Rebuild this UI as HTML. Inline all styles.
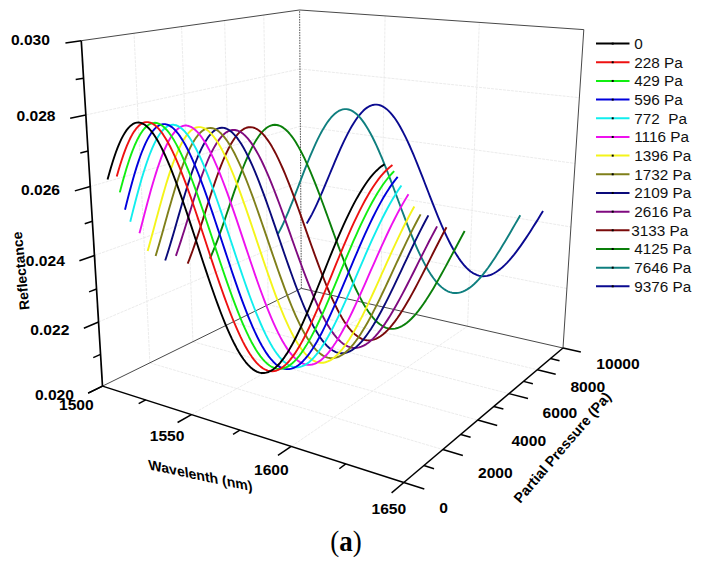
<!DOCTYPE html>
<html><head><meta charset="utf-8"><style>
html,body{margin:0;padding:0;background:#fff;}
body{width:701px;height:566px;overflow:hidden;font-family:"Liberation Sans",sans-serif;}
svg{display:block;}
</style></head><body>
<svg width="701" height="566" viewBox="0 0 701 566"><line x1="149.86" y1="362.84" x2="134.02" y2="33.26" stroke="#e6e6e6" stroke-width="0.8" stroke-dasharray="3,1"/>
<line x1="149.86" y1="362.84" x2="442.84" y2="449.54" stroke="#e6e6e6" stroke-width="0.8" stroke-dasharray="3,1"/>
<line x1="192.91" y1="341.68" x2="181.56" y2="26.58" stroke="#e6e6e6" stroke-width="0.8" stroke-dasharray="3,1"/>
<line x1="192.91" y1="341.68" x2="477.69" y2="420.09" stroke="#e6e6e6" stroke-width="0.8" stroke-dasharray="3,1"/>
<line x1="232.21" y1="322.37" x2="224.62" y2="20.53" stroke="#e6e6e6" stroke-width="0.8" stroke-dasharray="3,1"/>
<line x1="232.21" y1="322.37" x2="509.01" y2="393.62" stroke="#e6e6e6" stroke-width="0.8" stroke-dasharray="3,1"/>
<line x1="268.22" y1="304.67" x2="263.8" y2="15.02" stroke="#e6e6e6" stroke-width="0.8" stroke-dasharray="3,1"/>
<line x1="268.22" y1="304.67" x2="537.31" y2="369.71" stroke="#e6e6e6" stroke-width="0.8" stroke-dasharray="3,1"/>
<line x1="98.55" y1="321.94" x2="301.03" y2="235.86" stroke="#e6e6e6" stroke-width="0.8" stroke-dasharray="3,1"/>
<line x1="301.03" y1="235.86" x2="566.89" y2="288.48" stroke="#e6e6e6" stroke-width="0.8" stroke-dasharray="3,1"/>
<line x1="94.46" y1="255.44" x2="300.69" y2="181.83" stroke="#e6e6e6" stroke-width="0.8" stroke-dasharray="3,1"/>
<line x1="300.69" y1="181.83" x2="570.9" y2="226.98" stroke="#e6e6e6" stroke-width="0.8" stroke-dasharray="3,1"/>
<line x1="90.23" y1="186.49" x2="300.34" y2="126.22" stroke="#e6e6e6" stroke-width="0.8" stroke-dasharray="3,1"/>
<line x1="300.34" y1="126.22" x2="575.06" y2="163.41" stroke="#e6e6e6" stroke-width="0.8" stroke-dasharray="3,1"/>
<line x1="85.83" y1="114.95" x2="299.98" y2="68.96" stroke="#e6e6e6" stroke-width="0.8" stroke-dasharray="3,1"/>
<line x1="299.98" y1="68.96" x2="579.35" y2="97.66" stroke="#e6e6e6" stroke-width="0.8" stroke-dasharray="3,1"/>
<line x1="191.44" y1="414.57" x2="380.68" y2="306.46" stroke="#e6e6e6" stroke-width="0.8" stroke-dasharray="3,1"/>
<line x1="380.68" y1="306.46" x2="385.09" y2="15.9" stroke="#e6e6e6" stroke-width="0.8" stroke-dasharray="3,1"/>
<line x1="291.18" y1="446.48" x2="467.52" y2="326.24" stroke="#e6e6e6" stroke-width="0.8" stroke-dasharray="3,1"/>
<line x1="467.52" y1="326.24" x2="479.34" y2="22.41" stroke="#e6e6e6" stroke-width="0.8" stroke-dasharray="3,1"/>
<line x1="81.26" y1="40.68" x2="299.61" y2="9.99" stroke="#333" stroke-width="0.9"/>
<line x1="299.61" y1="9.99" x2="583.8" y2="29.62" stroke="#333" stroke-width="0.9"/>
<line x1="583.8" y1="29.62" x2="563" y2="348" stroke="#333" stroke-width="0.9"/>
<line x1="102.5" y1="386.12" x2="301.36" y2="288.38" stroke="#333" stroke-width="0.9"/>
<line x1="301.36" y1="288.38" x2="563" y2="348" stroke="#333" stroke-width="0.9"/>
<line x1="301.36" y1="288.38" x2="299.61" y2="9.99" stroke="#555" stroke-width="1" stroke-dasharray="1.6,1"/>
<g fill="none" stroke-width="1.9" stroke-linejoin="round"><path d="M306.71,223.4 308.43,220.59 310.15,217.56 311.88,214.34 313.61,210.93 315.35,207.35 317.1,203.61 318.86,199.73 320.62,195.73 322.39,191.63 324.17,187.43 325.95,183.17 327.75,178.85 329.55,174.5 331.36,170.13 333.17,165.77 335,161.42 336.83,157.12 338.68,152.88 340.52,148.71 342.38,144.64 344.24,140.68 346.12,136.85 347.99,133.17 349.88,129.66 351.77,126.32 353.66,123.17 355.57,120.24 357.47,117.52 359.39,115.04 361.3,112.79 363.22,110.81 365.15,109.08 367.07,107.63 369,106.46 370.93,105.57 372.86,104.96 374.8,104.65 376.73,104.63 378.67,104.9 380.6,105.47 382.54,106.32 384.47,107.47 386.4,108.9 388.33,110.61 390.26,112.59 392.19,114.83 394.11,117.33 396.03,120.08 397.95,123.07 399.86,126.28 401.78,129.7 403.68,133.33 405.59,137.14 407.49,141.13 409.39,145.27 411.29,149.56 413.18,153.98 415.07,158.5 416.96,163.13 418.85,167.84 420.73,172.61 422.62,177.43 424.5,182.28 426.38,187.15 428.26,192.01 430.14,196.86 432.02,201.68 433.9,206.46 435.78,211.17 437.67,215.8 439.55,220.35 441.44,224.79 443.34,229.11 445.24,233.31 447.14,237.36 449.05,241.26 450.96,244.99 452.88,248.56 454.81,251.93 456.75,255.12 458.69,258.1 460.64,260.88 462.61,263.44 464.58,265.77 466.57,267.89 468.56,269.77 470.57,271.41 472.59,272.81 474.62,273.98 476.67,274.9 478.73,275.57 480.81,276.01 482.9,276.19 485.01,276.13 487.13,275.83 489.26,275.29 491.42,274.52 493.59,273.51 495.78,272.27 497.98,270.8 500.2,269.12 502.44,267.23 504.7,265.13 506.97,262.83 509.26,260.34 511.57,257.67 513.89,254.83 516.23,251.82 518.59,248.66 520.97,245.35 523.36,241.91 525.77,238.35 528.19,234.68 530.63,230.91 533.08,227.05 535.55,223.12 538.03,219.13 540.52,215.09 543.03,211.01" stroke="#0a0a90"/><path d="M278.02,233.89 279.75,230.66 281.47,227.21 283.21,223.55 284.94,219.71 286.69,215.7 288.44,211.53 290.19,207.23 291.96,202.8 293.73,198.28 295.5,193.69 297.29,189.03 299.09,184.33 300.89,179.62 302.7,174.9 304.52,170.21 306.35,165.56 308.19,160.98 310.04,156.48 311.9,152.08 313.76,147.8 315.64,143.66 317.52,139.69 319.41,135.89 321.31,132.29 323.22,128.89 325.14,125.73 327.06,122.8 328.99,120.13 330.93,117.73 332.87,115.6 334.82,113.76 336.77,112.22 338.73,110.98 340.7,110.05 342.66,109.43 344.64,109.13 346.61,109.16 348.59,109.5 350.57,110.16 352.55,111.14 354.53,112.43 356.51,114.03 358.5,115.93 360.48,118.13 362.46,120.62 364.44,123.39 366.42,126.42 368.4,129.71 370.38,133.24 372.36,137 374.33,140.97 376.31,145.15 378.28,149.51 380.24,154.03 382.21,158.71 384.17,163.53 386.13,168.46 388.09,173.49 390.05,178.6 392.01,183.78 393.96,189 395.91,194.25 397.86,199.51 399.82,204.77 401.77,210 403.72,215.19 405.67,220.32 407.62,225.38 409.58,230.35 411.53,235.21 413.49,239.95 415.45,244.57 417.42,249.03 419.39,253.33 421.36,257.47 423.34,261.41 425.32,265.17 427.32,268.71 429.31,272.05 431.32,275.16 433.34,278.04 435.36,280.69 437.39,283.09 439.44,285.24 441.49,287.13 443.56,288.77 445.63,290.15 447.72,291.26 449.83,292.11 451.94,292.69 454.07,293.01 456.22,293.06 458.38,292.84 460.55,292.37 462.74,291.63 464.95,290.64 467.17,289.4 469.41,287.91 471.67,286.18 473.94,284.22 476.23,282.03 478.54,279.62 480.86,277 483.2,274.18 485.56,271.17 487.94,267.97 490.33,264.6 492.74,261.07 495.17,257.4 497.61,253.58 500.07,249.64 502.54,245.59 505.04,241.44 507.54,237.2 510.06,232.9 512.6,228.53 515.14,224.12 517.71,219.69 520.28,215.24" stroke="#0f7f7f"/><path d="M209.88,258.54 211.59,254.75 213.31,250.74 215.02,246.51 216.74,242.08 218.46,237.48 220.19,232.72 221.92,227.83 223.66,222.82 225.41,217.72 227.16,212.55 228.93,207.34 230.7,202.1 232.48,196.86 234.27,191.65 236.08,186.48 237.89,181.38 239.72,176.38 241.56,171.5 243.41,166.75 245.28,162.17 247.16,157.76 249.05,153.56 250.96,149.59 252.87,145.85 254.81,142.37 256.75,139.17 258.71,136.26 260.69,133.65 262.67,131.36 264.67,129.4 266.68,127.78 268.71,126.5 270.74,125.58 272.78,125.01 274.84,124.81 276.91,124.97 278.98,125.5 281.06,126.39 283.16,127.64 285.25,129.24 287.36,131.2 289.47,133.49 291.59,136.12 293.71,139.07 295.84,142.33 297.97,145.89 300.11,149.73 302.25,153.84 304.39,158.2 306.53,162.8 308.67,167.61 310.82,172.63 312.96,177.82 315.11,183.18 317.25,188.67 319.4,194.28 321.54,200 323.68,205.79 325.82,211.64 327.96,217.53 330.1,223.44 332.24,229.34 334.38,235.23 336.52,241.06 338.65,246.84 340.79,252.54 342.92,258.14 345.06,263.62 347.19,268.97 349.33,274.17 351.46,279.21 353.6,284.06 355.74,288.73 357.88,293.18 360.02,297.42 362.17,301.42 364.32,305.19 366.48,308.7 368.64,311.95 370.8,314.93 372.98,317.64 375.15,320.06 377.34,322.2 379.53,324.04 381.73,325.59 383.94,326.84 386.16,327.79 388.39,328.44 390.64,328.79 392.89,328.83 395.15,328.58 397.43,328.03 399.72,327.19 402.02,326.06 404.34,324.64 406.67,322.95 409.01,320.99 411.37,318.76 413.75,316.27 416.14,313.54 418.55,310.57 420.97,307.38 423.41,303.96 425.87,300.35 428.34,296.54 430.83,292.55 433.34,288.4 435.86,284.09 438.4,279.64 440.96,275.08 443.53,270.4 446.12,265.63 448.72,260.79 451.34,255.89 453.97,250.94 456.62,245.97 459.28,240.99 461.96,236.02 464.64,231.07" stroke="#0a7f0a"/><path d="M187.68,263.56 189.37,259.35 191.06,254.9 192.76,250.25 194.46,245.4 196.16,240.39 197.87,235.23 199.58,229.94 201.3,224.56 203.03,219.1 204.76,213.6 206.51,208.06 208.27,202.53 210.03,197.02 211.81,191.56 213.6,186.18 215.41,180.9 217.23,175.74 219.06,170.73 220.91,165.89 222.78,161.25 224.66,156.83 226.55,152.65 228.46,148.72 230.39,145.08 232.34,141.73 234.29,138.69 236.27,135.98 238.26,133.61 240.27,131.59 242.29,129.94 244.33,128.66 246.38,127.75 248.45,127.24 250.52,127.11 252.62,127.36 254.72,128.01 256.83,129.05 258.96,130.47 261.1,132.26 263.24,134.43 265.4,136.96 267.56,139.85 269.73,143.07 271.91,146.62 274.09,150.48 276.28,154.64 278.47,159.09 280.66,163.79 282.86,168.74 285.06,173.91 287.27,179.29 289.47,184.85 291.67,190.58 293.88,196.44 296.09,202.42 298.29,208.5 300.5,214.65 302.7,220.86 304.9,227.09 307.1,233.33 309.3,239.56 311.5,245.75 313.7,251.88 315.89,257.94 318.09,263.9 320.28,269.75 322.47,275.46 324.66,281.02 326.85,286.41 329.04,291.61 331.24,296.61 333.43,301.4 335.62,305.96 337.81,310.28 340.01,314.34 342.21,318.13 344.41,321.66 346.61,324.89 348.82,327.84 351.04,330.49 353.26,332.83 355.48,334.86 357.71,336.58 359.95,337.98 362.2,339.06 364.45,339.82 366.72,340.26 368.99,340.37 371.28,340.17 373.57,339.65 375.88,338.82 378.2,337.68 380.53,336.23 382.87,334.49 385.23,332.46 387.6,330.14 389.99,327.55 392.39,324.69 394.81,321.58 397.24,318.22 399.69,314.63 402.15,310.82 404.64,306.81 407.13,302.6 409.65,298.21 412.18,293.66 414.72,288.96 417.29,284.13 419.87,279.18 422.46,274.13 425.07,269 427.7,263.81 430.34,258.57 433,253.3 435.67,248.02 438.36,242.75 441.06,237.51 443.78,232.31 446.5,227.18" stroke="#7a0a0a"/><path d="M175.9,255.86 177.57,251.01 179.24,246 180.92,240.84 182.6,235.55 184.29,230.16 185.99,224.69 187.69,219.17 189.4,213.61 191.13,208.05 192.86,202.5 194.61,197 196.37,191.57 198.15,186.23 199.93,181.01 201.74,175.92 203.56,171 205.39,166.27 207.24,161.75 209.11,157.45 211,153.41 212.9,149.63 214.82,146.15 216.75,142.96 218.71,140.1 220.68,137.56 222.67,135.38 224.68,133.55 226.7,132.08 228.74,130.99 230.79,130.28 232.86,129.95 234.95,130.01 237.05,130.45 239.16,131.28 241.28,132.5 243.42,134.09 245.57,136.06 247.73,138.39 249.9,141.08 252.08,144.11 254.27,147.48 256.46,151.17 258.66,155.16 260.87,159.45 263.08,164.01 265.3,168.82 267.52,173.87 269.75,179.14 271.98,184.61 274.21,190.25 276.44,196.05 278.67,201.98 280.9,208.03 283.13,214.17 285.36,220.38 287.6,226.63 289.83,232.91 292.05,239.2 294.28,245.47 296.51,251.7 298.73,257.87 300.95,263.97 303.17,269.97 305.39,275.85 307.61,281.6 309.83,287.2 312.04,292.63 314.25,297.88 316.47,302.92 318.68,307.76 320.9,312.36 323.11,316.73 325.32,320.85 327.54,324.71 329.76,328.29 331.98,331.6 334.2,334.61 336.43,337.33 338.66,339.75 340.9,341.87 343.14,343.67 345.39,345.16 347.64,346.33 349.9,347.18 352.17,347.72 354.45,347.94 356.73,347.84 359.03,347.43 361.33,346.7 363.65,345.67 365.98,344.34 368.32,342.7 370.67,340.78 373.03,338.57 375.41,336.09 377.81,333.34 380.21,330.34 382.63,327.08 385.07,323.59 387.52,319.88 389.99,315.96 392.47,311.83 394.97,307.53 397.48,303.05 400.01,298.41 402.56,293.63 405.12,288.73 407.7,283.72 410.3,278.62 412.91,273.45 415.54,268.21 418.18,262.94 420.84,257.64 423.51,252.34 426.19,247.06 428.9,241.8 431.61,236.6 434.34,231.46 437.07,226.41" stroke="#7f0a7f"/><path d="M165.2,260.55 166.85,255.46 168.5,250.18 170.16,244.73 171.83,239.14 173.5,233.43 175.17,227.64 176.86,221.77 178.55,215.87 180.25,209.96 181.97,204.07 183.7,198.22 185.44,192.44 187.2,186.75 188.97,181.2 190.76,175.79 192.56,170.56 194.39,165.53 196.23,160.73 198.09,156.18 199.97,151.9 201.86,147.91 203.78,144.24 205.72,140.9 207.67,137.9 209.65,135.27 211.64,133.01 213.66,131.14 215.69,129.67 217.74,128.61 219.81,127.95 221.89,127.72 224,127.9 226.12,128.51 228.25,129.52 230.4,130.96 232.56,132.8 234.74,135.04 236.92,137.68 239.12,140.69 241.33,144.07 243.55,147.81 245.78,151.89 248.01,156.28 250.25,160.99 252.5,165.97 254.75,171.22 257.01,176.72 259.27,182.43 261.53,188.35 263.8,194.43 266.07,200.68 268.33,207.04 270.6,213.52 272.87,220.07 275.13,226.68 277.4,233.32 279.66,239.97 281.92,246.6 284.18,253.2 286.44,259.73 288.69,266.18 290.95,272.53 293.2,278.75 295.44,284.82 297.69,290.74 299.93,296.47 302.17,302 304.41,307.31 306.65,312.39 308.89,317.22 311.13,321.8 313.36,326.1 315.6,330.11 317.84,333.83 320.08,337.25 322.32,340.35 324.56,343.13 326.81,345.59 329.06,347.71 331.32,349.49 333.58,350.93 335.85,352.03 338.12,352.79 340.4,353.2 342.69,353.27 344.98,353 347.29,352.39 349.6,351.44 351.93,350.16 354.26,348.56 356.61,346.64 358.97,344.41 361.34,341.88 363.73,339.05 366.13,335.94 368.54,332.56 370.97,328.92 373.41,325.04 375.87,320.92 378.35,316.58 380.84,312.03 383.34,307.3 385.87,302.39 388.4,297.33 390.96,292.13 393.53,286.81 396.12,281.38 398.73,275.87 401.35,270.3 403.98,264.68 406.64,259.03 409.31,253.38 411.99,247.75 414.69,242.15 417.4,236.6 420.12,231.13 422.86,225.75 425.61,220.49 428.37,215.36" stroke="#0a0a7a"/><path d="M155.62,255.96 157.25,250.54 158.89,244.96 160.54,239.25 162.19,233.43 163.85,227.53 165.51,221.57 167.19,215.59 168.88,209.61 170.58,203.65 172.29,197.74 174.02,191.92 175.76,186.2 177.52,180.62 179.3,175.19 181.09,169.96 182.9,164.93 184.73,160.14 186.59,155.61 188.46,151.36 190.35,147.41 192.26,143.78 194.2,140.49 196.15,137.55 198.12,134.98 200.12,132.8 202.13,131.01 204.17,129.62 206.23,128.64 208.3,128.08 210.39,127.94 212.5,128.22 214.63,128.93 216.78,130.05 218.94,131.59 221.12,133.54 223.31,135.89 225.51,138.64 227.72,141.76 229.95,145.26 232.19,149.11 234.44,153.29 236.69,157.8 238.96,162.62 241.23,167.71 243.5,173.07 245.78,178.67 248.07,184.49 250.36,190.51 252.65,196.7 254.94,203.04 257.23,209.51 259.53,216.08 261.82,222.73 264.11,229.43 266.4,236.16 268.69,242.9 270.98,249.62 273.26,256.3 275.55,262.92 277.83,269.46 280.11,275.89 282.38,282.19 284.65,288.34 286.92,294.33 289.19,300.14 291.45,305.75 293.71,311.13 295.97,316.29 298.23,321.19 300.49,325.84 302.74,330.21 305,334.29 307.25,338.08 309.51,341.56 311.76,344.73 314.02,347.57 316.28,350.09 318.55,352.27 320.81,354.12 323.08,355.62 325.36,356.78 327.64,357.59 329.93,358.05 332.22,358.18 334.52,357.95 336.83,357.39 339.15,356.49 341.48,355.25 343.82,353.69 346.17,351.81 348.53,349.61 350.9,347.11 353.28,344.31 355.68,341.22 358.09,337.86 360.52,334.24 362.95,330.36 365.41,326.25 367.88,321.91 370.36,317.36 372.86,312.61 375.38,307.69 377.92,302.6 380.46,297.37 383.03,292.02 385.61,286.55 388.21,280.99 390.83,275.36 393.46,269.68 396.11,263.97 398.77,258.24 401.45,252.52 404.14,246.83 406.85,241.19 409.57,235.61 412.31,230.12 415.06,224.73 417.82,219.48 420.59,214.37" stroke="#7f7f1a"/><path d="M147.66,251.08 149.27,245.29 150.9,239.37 152.52,233.35 154.16,227.26 155.8,221.11 157.46,214.95 159.13,208.79 160.81,202.68 162.5,196.62 164.21,190.66 165.94,184.82 167.68,179.13 169.44,173.61 171.22,168.3 173.02,163.21 174.84,158.37 176.69,153.81 178.55,149.54 180.44,145.6 182.34,141.99 184.27,138.74 186.22,135.86 188.2,133.36 190.2,131.27 192.21,129.59 194.25,128.32 196.32,127.49 198.4,127.08 200.5,127.11 202.62,127.58 204.76,128.48 206.92,129.82 209.09,131.58 211.28,133.76 213.49,136.35 215.71,139.35 217.95,142.73 220.19,146.49 222.45,150.6 224.72,155.06 226.99,159.83 229.28,164.92 231.57,170.28 233.87,175.91 236.17,181.78 238.48,187.86 240.79,194.13 243.1,200.57 245.42,207.15 247.74,213.86 250.05,220.65 252.37,227.51 254.68,234.42 257,241.34 259.31,248.26 261.62,255.15 263.92,261.98 266.22,268.74 268.52,275.4 270.82,281.94 273.11,288.34 275.4,294.57 277.69,300.63 279.97,306.48 282.25,312.12 284.53,317.53 286.8,322.68 289.07,327.58 291.34,332.19 293.61,336.52 295.88,340.55 298.14,344.26 300.41,347.66 302.67,350.72 304.94,353.45 307.21,355.84 309.48,357.88 311.75,359.57 314.03,360.91 316.31,361.89 318.59,362.52 320.88,362.79 323.18,362.7 325.49,362.26 327.8,361.47 330.12,360.34 332.45,358.87 334.79,357.06 337.14,354.92 339.5,352.47 341.87,349.71 344.25,346.65 346.65,343.3 349.06,339.67 351.48,335.78 353.92,331.63 356.38,327.25 358.84,322.65 361.33,317.84 363.83,312.83 366.34,307.66 368.87,302.32 371.42,296.85 373.99,291.26 376.57,285.57 379.16,279.79 381.78,273.96 384.41,268.08 387.05,262.18 389.72,256.28 392.39,250.4 395.09,244.56 397.8,238.79 400.52,233.09 403.25,227.5 406,222.04 408.76,216.72 411.54,211.56 414.32,206.58" stroke="#f4f41a"/><path d="M139.46,233.31 141.06,227.14 142.67,220.92 144.29,214.69 145.92,208.46 147.57,202.27 149.23,196.15 150.91,190.12 152.6,184.21 154.31,178.45 156.05,172.87 157.8,167.49 159.57,162.34 161.36,157.44 163.18,152.82 165.01,148.49 166.87,144.49 168.76,140.83 170.67,137.52 172.6,134.59 174.55,132.05 176.53,129.91 178.53,128.18 180.56,126.88 182.61,126.01 184.68,125.57 186.77,125.57 188.88,126.01 191.02,126.89 193.17,128.2 195.34,129.95 197.53,132.11 199.74,134.7 201.96,137.68 204.2,141.06 206.45,144.82 208.72,148.94 210.99,153.41 213.28,158.21 215.58,163.31 217.88,168.7 220.19,174.36 222.51,180.26 224.83,186.38 227.16,192.69 229.49,199.18 231.82,205.82 234.15,212.58 236.48,219.43 238.82,226.36 241.15,233.33 243.48,240.33 245.81,247.33 248.14,254.3 250.46,261.22 252.78,268.06 255.1,274.82 257.41,281.45 259.72,287.95 262.03,294.28 264.33,300.44 266.63,306.41 268.92,312.15 271.21,317.67 273.49,322.94 275.78,327.95 278.05,332.68 280.33,337.13 282.6,341.28 284.88,345.11 287.15,348.63 289.41,351.81 291.68,354.66 293.95,357.17 296.22,359.33 298.49,361.14 300.76,362.6 303.04,363.7 305.32,364.44 307.6,364.82 309.89,364.84 312.18,364.51 314.48,363.83 316.79,362.79 319.1,361.42 321.43,359.7 323.76,357.66 326.1,355.29 328.45,352.61 330.81,349.62 333.19,346.34 335.57,342.77 337.97,338.93 340.39,334.84 342.81,330.5 345.25,325.93 347.71,321.15 350.18,316.16 352.66,311 355.16,305.66 357.68,300.19 360.21,294.58 362.76,288.86 365.33,283.05 367.91,277.17 370.51,271.24 373.13,265.28 375.76,259.31 378.4,253.35 381.07,247.42 383.74,241.54 386.43,235.74 389.14,230.03 391.86,224.43 394.6,218.97 397.34,213.66 400.1,208.53 402.87,203.59 405.66,198.86 408.45,194.36" stroke="#ee11ee"/><path d="M130.25,221.7 131.84,215.37 133.45,209.05 135.06,202.77 136.7,196.55 138.35,190.43 140.01,184.43 141.7,178.58 143.4,172.91 145.13,167.44 146.88,162.21 148.65,157.23 150.44,152.53 152.26,148.14 154.1,144.07 155.97,140.34 157.86,136.98 159.78,134 161.72,131.42 163.69,129.24 165.68,127.48 167.7,126.15 169.74,125.26 171.81,124.81 173.9,124.81 176.01,125.25 178.15,126.14 180.3,127.47 182.48,129.24 184.68,131.44 186.89,134.06 189.12,137.1 191.37,140.53 193.64,144.34 195.91,148.53 198.2,153.06 200.51,157.93 202.82,163.11 205.14,168.59 207.47,174.33 209.81,180.32 212.15,186.53 214.5,192.94 216.85,199.53 219.21,206.26 221.57,213.12 223.92,220.08 226.28,227.11 228.64,234.18 230.99,241.28 233.35,248.38 235.7,255.45 238.04,262.46 240.39,269.41 242.73,276.25 245.06,282.97 247.39,289.56 249.72,295.98 252.04,302.22 254.35,308.26 256.67,314.08 258.97,319.67 261.27,325 263.57,330.07 265.86,334.86 268.15,339.35 270.44,343.54 272.72,347.42 275,350.97 277.28,354.19 279.56,357.06 281.83,359.59 284.11,361.76 286.38,363.58 288.66,365.04 290.94,366.13 293.21,366.86 295.5,367.23 297.78,367.24 300.07,366.88 302.37,366.17 304.67,365.1 306.98,363.68 309.29,361.93 311.62,359.83 313.95,357.41 316.29,354.67 318.64,351.62 321,348.27 323.38,344.64 325.76,340.73 328.16,336.56 330.57,332.14 333,327.48 335.44,322.61 337.89,317.54 340.36,312.29 342.84,306.87 345.34,301.3 347.86,295.59 350.39,289.78 352.94,283.88 355.5,277.91 358.08,271.88 360.68,265.83 363.29,259.76 365.92,253.71 368.57,247.69 371.23,241.72 373.9,235.84 376.59,230.04 379.3,224.37 382.02,218.83 384.75,213.45 387.5,208.25 390.25,203.25 393.02,198.46 395.8,193.9 398.59,189.6 401.39,185.57" stroke="#11eeee"/><path d="M125.01,209.65 126.6,203.28 128.2,196.96 129.83,190.75 131.47,184.65 133.13,178.71 134.81,172.95 136.51,167.4 138.24,162.09 139.99,157.03 141.76,152.26 143.56,147.79 145.38,143.66 147.23,139.87 149.11,136.46 151.01,133.43 152.94,130.81 154.89,128.6 156.87,126.81 158.88,125.47 160.91,124.57 162.97,124.12 165.06,124.12 167.16,124.57 169.3,125.48 171.45,126.84 173.63,128.64 175.82,130.89 178.04,133.56 180.27,136.65 182.53,140.14 184.79,144.02 187.08,148.28 189.38,152.89 191.69,157.84 194.01,163.11 196.34,168.68 198.68,174.51 201.02,180.6 203.38,186.91 205.74,193.42 208.1,200.11 210.47,206.94 212.83,213.9 215.2,220.96 217.57,228.09 219.94,235.26 222.31,242.46 224.67,249.65 227.03,256.81 229.39,263.91 231.75,270.94 234.1,277.86 236.44,284.66 238.78,291.32 241.12,297.81 243.45,304.11 245.77,310.2 248.09,316.08 250.4,321.71 252.71,327.08 255.01,332.18 257.31,336.99 259.6,341.51 261.89,345.71 264.17,349.6 266.45,353.15 268.73,356.36 271,359.22 273.28,361.73 275.55,363.88 277.82,365.67 280.09,367.09 282.36,368.14 284.63,368.82 286.91,369.14 289.19,369.08 291.47,368.66 293.75,367.88 296.04,366.73 298.34,365.24 300.64,363.4 302.95,361.21 305.27,358.7 307.6,355.86 309.93,352.71 312.28,349.26 314.64,345.52 317.01,341.51 319.39,337.23 321.78,332.7 324.19,327.93 326.61,322.95 329.04,317.77 331.49,312.4 333.96,306.87 336.44,301.19 338.93,295.38 341.44,289.46 343.97,283.45 346.51,277.37 349.07,271.25 351.65,265.1 354.24,258.94 356.85,252.81 359.48,246.71 362.12,240.66 364.77,234.71 367.44,228.85 370.13,223.12 372.83,217.53 375.54,212.11 378.27,206.87 381.01,201.84 383.76,197.03 386.53,192.47 389.3,188.16 392.09,184.14 394.88,180.4 397.68,176.97" stroke="#0000dd"/><path d="M119.81,192.38 121.42,186.25 123.05,180.27 124.7,174.45 126.37,168.82 128.06,163.41 129.78,158.25 131.52,153.36 133.29,148.76 135.08,144.48 136.89,140.53 138.74,136.94 140.61,133.73 142.51,130.91 144.44,128.49 146.39,126.48 148.37,124.91 150.38,123.77 152.41,123.07 154.47,122.82 156.56,123.01 158.67,123.66 160.8,124.75 162.96,126.29 165.14,128.26 167.34,130.67 169.56,133.49 171.8,136.72 174.06,140.35 176.33,144.36 178.62,148.73 180.93,153.45 183.24,158.49 185.57,163.84 187.91,169.47 190.26,175.37 192.61,181.51 194.97,187.86 197.34,194.4 199.71,201.11 202.08,207.96 204.46,214.92 206.84,221.97 209.21,229.09 211.59,236.25 213.96,243.42 216.33,250.58 218.7,257.7 221.07,264.76 223.43,271.74 225.78,278.62 228.14,285.37 230.48,291.97 232.82,298.4 235.16,304.65 237.48,310.69 239.81,316.5 242.12,322.08 244.43,327.39 246.74,332.44 249.04,337.2 251.33,341.67 253.62,345.82 255.91,349.66 258.19,353.17 260.46,356.34 262.74,359.17 265.01,361.65 267.28,363.77 269.54,365.53 271.81,366.94 274.08,367.97 276.34,368.65 278.61,368.96 280.88,368.9 283.16,368.48 285.43,367.71 287.71,366.58 290,365.1 292.29,363.28 294.59,361.12 296.89,358.64 299.21,355.83 301.53,352.72 303.86,349.31 306.2,345.61 308.55,341.64 310.92,337.4 313.29,332.92 315.68,328.2 318.08,323.27 320.5,318.13 322.93,312.82 325.37,307.33 327.83,301.7 330.3,295.93 332.79,290.06 335.3,284.09 337.82,278.05 340.36,271.96 342.91,265.84 345.48,259.71 348.06,253.6 350.67,247.51 353.28,241.48 355.92,235.52 358.57,229.66 361.23,223.92 363.91,218.31 366.6,212.86 369.31,207.59 372.03,202.52 374.76,197.66 377.51,193.04 380.27,188.66 383.03,184.56 385.81,180.74 388.6,177.22 391.39,174.01 394.19,171.12" stroke="#11ee11"/><path d="M116.74,176.6 118.38,170.83 120.04,165.27 121.72,159.95 123.43,154.9 125.16,150.13 126.92,145.67 128.7,141.54 130.51,137.77 132.35,134.36 134.22,131.35 136.12,128.73 138.04,126.53 140,124.76 141.98,123.42 143.99,122.53 146.02,122.09 148.09,122.1 150.17,122.56 152.29,123.48 154.43,124.84 156.59,126.65 158.78,128.89 160.98,131.56 163.21,134.65 165.45,138.15 167.72,142.03 170,146.29 172.29,150.91 174.6,155.86 176.93,161.13 179.26,166.7 181.6,172.54 183.96,178.63 186.32,184.95 188.68,191.48 191.06,198.18 193.43,205.04 195.81,212.02 198.19,219.11 200.57,226.27 202.95,233.49 205.33,240.72 207.7,247.96 210.08,255.18 212.45,262.34 214.81,269.44 217.17,276.44 219.53,283.32 221.88,290.06 224.22,296.64 226.56,303.04 228.89,309.25 231.21,315.23 233.53,320.99 235.84,326.49 238.15,331.72 240.45,336.68 242.74,341.34 245.03,345.7 247.31,349.74 249.59,353.46 251.86,356.84 254.13,359.88 256.39,362.57 258.65,364.9 260.91,366.88 263.16,368.49 265.42,369.74 267.67,370.62 269.93,371.13 272.18,371.28 274.44,371.06 276.69,370.48 278.96,369.53 281.22,368.24 283.49,366.59 285.77,364.61 288.05,362.29 290.33,359.64 292.63,356.67 294.93,353.4 297.25,349.83 299.57,345.98 301.9,341.85 304.25,337.47 306.6,332.84 308.97,327.99 311.35,322.92 313.74,317.66 316.15,312.21 318.58,306.61 321.01,300.86 323.46,294.99 325.93,289.01 328.42,282.95 330.92,276.82 333.43,270.65 335.96,264.46 338.51,258.26 341.07,252.08 343.65,245.95 346.25,239.87 348.86,233.87 351.49,227.98 354.13,222.22 356.79,216.59 359.46,211.14 362.15,205.87 364.85,200.8 367.56,195.96 370.29,191.35 373.02,187.01 375.77,182.94 378.53,179.16 381.3,175.69 384.07,172.53 386.85,169.71 389.65,167.23 392.44,165.1" stroke="#ee1111"/><path d="M107.55,179.58 109.17,173.66 110.81,167.94 112.48,162.45 114.17,157.23 115.89,152.29 117.63,147.66 119.4,143.37 121.2,139.42 123.03,135.86 124.89,132.68 126.78,129.91 128.7,127.57 130.65,125.66 132.63,124.19 134.64,123.18 136.68,122.63 138.74,122.54 140.84,122.91 142.96,123.75 145.1,125.04 147.28,126.8 149.47,129 151.69,131.64 153.94,134.72 156.2,138.21 158.48,142.1 160.78,146.37 163.1,151.02 165.43,156.01 167.78,161.33 170.14,166.96 172.51,172.87 174.89,179.04 177.27,185.44 179.67,192.06 182.07,198.85 184.47,205.81 186.88,212.9 189.29,220.09 191.7,227.36 194.11,234.68 196.52,242.03 198.93,249.38 201.33,256.7 203.73,263.97 206.12,271.16 208.51,278.26 210.9,285.23 213.28,292.06 215.65,298.73 218.01,305.2 220.37,311.47 222.72,317.52 225.06,323.32 227.4,328.87 229.73,334.14 232.05,339.12 234.36,343.8 236.67,348.16 238.97,352.2 241.26,355.9 243.55,359.26 245.84,362.26 248.12,364.91 250.39,367.19 252.66,369.1 254.93,370.64 257.2,371.8 259.47,372.58 261.73,372.99 264,373.02 266.26,372.68 268.53,371.97 270.8,370.89 273.07,369.45 275.35,367.66 277.63,365.51 279.91,363.03 282.21,360.21 284.51,357.08 286.82,353.63 289.13,349.88 291.46,345.85 293.8,341.54 296.14,336.98 298.5,332.17 300.88,327.13 303.26,321.89 305.66,316.45 308.07,310.84 310.5,305.07 312.94,299.16 315.39,293.14 317.86,287.01 320.35,280.82 322.86,274.56 325.38,268.28 327.91,261.98 330.47,255.69 333.04,249.44 335.62,243.23 338.22,237.11 340.84,231.08 343.48,225.17 346.13,219.41 348.79,213.8 351.47,208.38 354.17,203.16 356.88,198.17 359.6,193.42 362.34,188.93 365.08,184.71 367.84,180.79 370.61,177.18 373.39,173.9 376.18,170.95 378.97,168.35 381.78,166.11 384.58,164.24" stroke="#000000"/></g>
<line x1="102.5" y1="386.12" x2="81.26" y2="40.68" stroke="#000" stroke-width="1.7"/>
<line x1="102.5" y1="386.12" x2="403.82" y2="482.51" stroke="#000" stroke-width="1.5"/>
<line x1="403.82" y1="482.51" x2="563" y2="348" stroke="#000" stroke-width="1.5"/>
<line x1="102.5" y1="386.12" x2="88.14" y2="393.17" stroke="#000" stroke-width="1.5"/>
<line x1="100.54" y1="354.31" x2="93.27" y2="357.64" stroke="#000" stroke-width="1.5"/>
<line x1="98.55" y1="321.94" x2="83.83" y2="328.2" stroke="#000" stroke-width="1.5"/>
<line x1="96.53" y1="288.99" x2="89.08" y2="291.9" stroke="#000" stroke-width="1.5"/>
<line x1="94.46" y1="255.44" x2="79.4" y2="260.82" stroke="#000" stroke-width="1.5"/>
<line x1="92.36" y1="221.28" x2="84.75" y2="223.73" stroke="#000" stroke-width="1.5"/>
<line x1="90.23" y1="186.49" x2="74.85" y2="190.9" stroke="#000" stroke-width="1.5"/>
<line x1="88.05" y1="151.05" x2="80.29" y2="153" stroke="#000" stroke-width="1.5"/>
<line x1="85.83" y1="114.95" x2="70.18" y2="118.31" stroke="#000" stroke-width="1.5"/>
<line x1="83.57" y1="78.17" x2="75.69" y2="79.57" stroke="#000" stroke-width="1.5"/>
<line x1="81.26" y1="40.68" x2="65.42" y2="42.9" stroke="#000" stroke-width="1.5"/>
<line x1="102.5" y1="386.12" x2="88.14" y2="393.17" stroke="#000" stroke-width="1.5"/>
<line x1="145.73" y1="399.95" x2="138.66" y2="403.68" stroke="#000" stroke-width="1.5"/>
<line x1="191.44" y1="414.57" x2="177.55" y2="422.51" stroke="#000" stroke-width="1.5"/>
<line x1="239.84" y1="430.05" x2="233.05" y2="434.28" stroke="#000" stroke-width="1.5"/>
<line x1="291.18" y1="446.48" x2="277.96" y2="455.49" stroke="#000" stroke-width="1.5"/>
<line x1="345.73" y1="463.93" x2="339.35" y2="468.75" stroke="#000" stroke-width="1.5"/>
<line x1="403.82" y1="482.51" x2="391.59" y2="492.84" stroke="#000" stroke-width="1.5"/>
<line x1="403.82" y1="482.51" x2="424.29" y2="489.07" stroke="#000" stroke-width="1.5"/>
<line x1="423.89" y1="465.55" x2="434.02" y2="468.66" stroke="#000" stroke-width="1.5"/>
<line x1="442.84" y1="449.54" x2="462.84" y2="455.46" stroke="#000" stroke-width="1.5"/>
<line x1="460.74" y1="434.41" x2="470.62" y2="437.23" stroke="#000" stroke-width="1.5"/>
<line x1="477.69" y1="420.09" x2="497.19" y2="425.45" stroke="#000" stroke-width="1.5"/>
<line x1="493.76" y1="406.51" x2="503.38" y2="409.07" stroke="#000" stroke-width="1.5"/>
<line x1="509.01" y1="393.62" x2="527.97" y2="398.5" stroke="#000" stroke-width="1.5"/>
<line x1="523.51" y1="381.37" x2="532.85" y2="383.7" stroke="#000" stroke-width="1.5"/>
<line x1="537.31" y1="369.71" x2="555.72" y2="374.16" stroke="#000" stroke-width="1.5"/>
<line x1="550.46" y1="358.6" x2="559.52" y2="360.73" stroke="#000" stroke-width="1.5"/>
<line x1="563" y1="348" x2="580.84" y2="352.07" stroke="#000" stroke-width="1.5"/>
<text x="0" y="0" transform="translate(10.88,44.5) scale(1.04,1)" font-family="Liberation Sans" font-size="15" font-weight="bold" text-anchor="start" fill="#000">0.030</text>
<text x="0" y="0" transform="translate(16.48,120.6) scale(1.04,1)" font-family="Liberation Sans" font-size="15" font-weight="bold" text-anchor="start" fill="#000">0.028</text>
<text x="0" y="0" transform="translate(20.98,194.6) scale(1.04,1)" font-family="Liberation Sans" font-size="15" font-weight="bold" text-anchor="start" fill="#000">0.026</text>
<text x="0" y="0" transform="translate(25.78,265.5) scale(1.04,1)" font-family="Liberation Sans" font-size="15" font-weight="bold" text-anchor="start" fill="#000">0.024</text>
<text x="0" y="0" transform="translate(30.28,334.6) scale(1.04,1)" font-family="Liberation Sans" font-size="15" font-weight="bold" text-anchor="start" fill="#000">0.022</text>
<text x="0" y="0" transform="translate(34.88,400) scale(1.04,1)" font-family="Liberation Sans" font-size="15" font-weight="bold" text-anchor="start" fill="#000">0.020</text>
<text x="0" y="0" transform="translate(59.02,409.8) scale(1.04,1)" font-family="Liberation Sans" font-size="15" font-weight="bold" text-anchor="start" fill="#000">1500</text>
<text x="0" y="0" transform="translate(149.72,441.4) scale(1.04,1)" font-family="Liberation Sans" font-size="15" font-weight="bold" text-anchor="start" fill="#000">1550</text>
<text x="0" y="0" transform="translate(254.02,475.3) scale(1.04,1)" font-family="Liberation Sans" font-size="15" font-weight="bold" text-anchor="start" fill="#000">1600</text>
<text x="0" y="0" transform="translate(371.52,513.7) scale(1.04,1)" font-family="Liberation Sans" font-size="15" font-weight="bold" text-anchor="start" fill="#000">1650</text>
<text x="0" y="0" transform="translate(439.18,513.2) scale(1.04,1)" font-family="Liberation Sans" font-size="15" font-weight="bold" text-anchor="start" fill="#000">0</text>
<text x="0" y="0" transform="translate(477.98,477.8) scale(1.04,1)" font-family="Liberation Sans" font-size="15" font-weight="bold" text-anchor="start" fill="#000">2000</text>
<text x="0" y="0" transform="translate(511.38,446) scale(1.04,1)" font-family="Liberation Sans" font-size="15" font-weight="bold" text-anchor="start" fill="#000">4000</text>
<text x="0" y="0" transform="translate(542.58,418.1) scale(1.04,1)" font-family="Liberation Sans" font-size="15" font-weight="bold" text-anchor="start" fill="#000">6000</text>
<text x="0" y="0" transform="translate(570.38,391.8) scale(1.04,1)" font-family="Liberation Sans" font-size="15" font-weight="bold" text-anchor="start" fill="#000">8000</text>
<text x="0" y="0" transform="translate(596.32,368.9) scale(1.04,1)" font-family="Liberation Sans" font-size="15" font-weight="bold" text-anchor="start" fill="#000">10000</text>
<text x="0" y="0" transform="translate(29.5,309.5) rotate(-95.6)" font-family="Liberation Sans" font-size="14" font-weight="bold" text-anchor="start" fill="#000">Reflectance</text>
<text transform="matrix(0.978,0.208,0.11,0.994,149.1,469.4)" font-family="Liberation Sans" font-size="14.35" font-weight="bold">Wavelenth (nm)</text>
<text transform="matrix(0.652,-0.758,0.758,0.652,520.2,504)" font-family="Liberation Sans" font-size="14.4" font-weight="bold">Partial Pressure (Pa)</text>
<line x1="596" y1="43.6" x2="629.5" y2="43.6" stroke="#000000" stroke-width="2"/>
<rect x="611.7" y="42.6" width="2" height="2" fill="#000"/>
<text x="634.2" y="49" font-family="Liberation Sans" font-size="15.3" fill="#111" xml:space="preserve">0</text>
<line x1="596" y1="62.27" x2="629.5" y2="62.27" stroke="#ee1111" stroke-width="2"/>
<rect x="611.7" y="61.27" width="2" height="2" fill="#000"/>
<text x="634.2" y="67.67" font-family="Liberation Sans" font-size="15.3" fill="#111" xml:space="preserve">228 Pa</text>
<line x1="596" y1="80.94" x2="629.5" y2="80.94" stroke="#11ee11" stroke-width="2"/>
<rect x="611.7" y="79.94" width="2" height="2" fill="#000"/>
<text x="634.2" y="86.34" font-family="Liberation Sans" font-size="15.3" fill="#111" xml:space="preserve">429 Pa</text>
<line x1="596" y1="99.61" x2="629.5" y2="99.61" stroke="#0000dd" stroke-width="2"/>
<rect x="611.7" y="98.61" width="2" height="2" fill="#000"/>
<text x="634.2" y="105.01" font-family="Liberation Sans" font-size="15.3" fill="#111" xml:space="preserve">596 Pa</text>
<line x1="596" y1="118.28" x2="629.5" y2="118.28" stroke="#11eeee" stroke-width="2"/>
<rect x="611.7" y="117.28" width="2" height="2" fill="#000"/>
<text x="634.2" y="123.68" font-family="Liberation Sans" font-size="15.3" fill="#111" xml:space="preserve">772  Pa</text>
<line x1="596" y1="136.95" x2="629.5" y2="136.95" stroke="#ee11ee" stroke-width="2"/>
<rect x="611.7" y="135.95" width="2" height="2" fill="#000"/>
<text x="634.2" y="142.35" font-family="Liberation Sans" font-size="15.3" fill="#111" xml:space="preserve">1116 Pa</text>
<line x1="596" y1="155.62" x2="629.5" y2="155.62" stroke="#f4f41a" stroke-width="2"/>
<rect x="611.7" y="154.62" width="2" height="2" fill="#000"/>
<text x="634.2" y="161.02" font-family="Liberation Sans" font-size="15.3" fill="#111" xml:space="preserve">1396 Pa</text>
<line x1="596" y1="174.29" x2="629.5" y2="174.29" stroke="#7f7f1a" stroke-width="2"/>
<rect x="611.7" y="173.29" width="2" height="2" fill="#000"/>
<text x="634.2" y="179.69" font-family="Liberation Sans" font-size="15.3" fill="#111" xml:space="preserve">1732 Pa</text>
<line x1="596" y1="192.96" x2="629.5" y2="192.96" stroke="#0a0a7a" stroke-width="2"/>
<rect x="611.7" y="191.96" width="2" height="2" fill="#000"/>
<text x="634.2" y="198.36" font-family="Liberation Sans" font-size="15.3" fill="#111" xml:space="preserve">2109 Pa</text>
<line x1="596" y1="211.63" x2="629.5" y2="211.63" stroke="#7f0a7f" stroke-width="2"/>
<rect x="611.7" y="210.63" width="2" height="2" fill="#000"/>
<text x="634.2" y="217.03" font-family="Liberation Sans" font-size="15.3" fill="#111" xml:space="preserve">2616 Pa</text>
<line x1="596" y1="230.3" x2="629.5" y2="230.3" stroke="#7a0a0a" stroke-width="2"/>
<rect x="611.7" y="229.3" width="2" height="2" fill="#000"/>
<text x="631.2" y="235.7" font-family="Liberation Sans" font-size="15.3" fill="#111" xml:space="preserve">3133 Pa</text>
<line x1="596" y1="248.97" x2="629.5" y2="248.97" stroke="#0a7f0a" stroke-width="2"/>
<rect x="611.7" y="247.97" width="2" height="2" fill="#000"/>
<text x="634.2" y="254.37" font-family="Liberation Sans" font-size="15.3" fill="#111" xml:space="preserve">4125 Pa</text>
<line x1="596" y1="267.64" x2="629.5" y2="267.64" stroke="#0f7f7f" stroke-width="2"/>
<rect x="611.7" y="266.64" width="2" height="2" fill="#000"/>
<text x="634.2" y="273.04" font-family="Liberation Sans" font-size="15.3" fill="#111" xml:space="preserve">7646 Pa</text>
<line x1="596" y1="286.31" x2="629.5" y2="286.31" stroke="#0a0a90" stroke-width="2"/>
<rect x="611.7" y="285.31" width="2" height="2" fill="#000"/>
<text x="634.2" y="291.71" font-family="Liberation Sans" font-size="15.3" fill="#111" xml:space="preserve">9376 Pa</text>
<text transform="translate(330.3,550.9) scale(0.93,1)" font-family="Liberation Serif" font-size="29" fill="#000">(<tspan font-weight="bold">a</tspan>)</text></svg>
</body></html>
